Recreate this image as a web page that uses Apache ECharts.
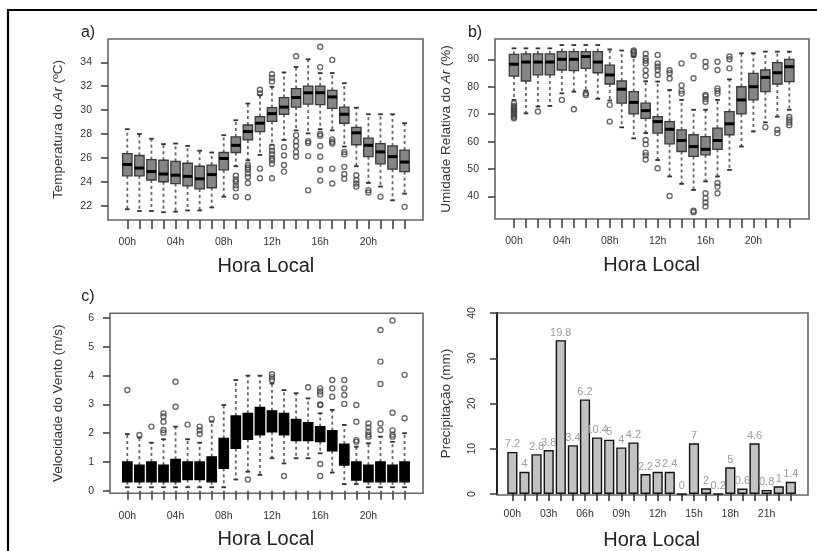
<!DOCTYPE html>
<html>
<head>
<meta charset="utf-8">
<title>Hora Local</title>
<script src="https://cdn.jsdelivr.net/npm/echarts@6/dist/echarts.min.js"></script>
<style>
  html, body { margin: 0; padding: 0; background: #fff; }
  #main { width: 817px; height: 551px; }
</style>
</head>
<body>
<div id="main"></div>
<script type="text/javascript">
// categorias (hora local)
const hours = ['00h','01h','02h','03h','04h','05h','06h','07h','08h','09h','10h','11h',
               '12h','13h','14h','15h','16h','17h','18h','19h','20h','21h','22h','23h'];

// a) temperatura do ar
const tempMin = [21.7,21.55,21.55,21.45,21.5,21.6,21.6,21.85,22.75,25.3,25.8,26.25,27.1,27.5,28.3,28.05,28.4,28.3,26.95,25.3,23.9,23.6,22.45,23.0];
const tempQ1  = [24.5,24.5,24.15,24.0,23.85,23.65,23.4,23.5,25.0,26.45,27.5,28.2,29.05,29.65,30.25,30.5,30.45,30.15,28.9,27.1,26.1,25.5,25.05,24.85];
const tempMed = [25.45,25.15,24.85,24.65,24.55,24.45,24.25,24.6,25.95,27.05,28.2,28.9,29.7,30.25,31.05,31.45,31.45,31.1,29.65,28.1,27.05,26.5,26.1,25.65];
const tempQ3  = [26.35,26.2,25.85,25.8,25.7,25.55,25.3,25.4,26.45,27.75,28.75,29.45,30.2,31.05,31.8,32.0,32.0,31.65,30.25,28.55,27.65,27.2,27.0,26.65];
const tempMax = [28.4,28.0,27.6,27.15,27.2,27.0,26.6,26.45,27.9,29.15,30.55,31.25,31.95,33.15,33.6,34.25,33.1,33.1,32.25,30.2,29.65,29.65,29.65,28.9];
const tempOut = [
  [9,24.5],[9,24.2],[9,24.0],[9,23.7],[9,23.45],[9,22.75],
  [10,25.4],[10,25.2],[10,25.0],[10,24.7],[10,24.4],[10,23.9],[10,22.7],
  [11,31.7],[11,31.4],[11,25.1],[11,24.3],
  [12,33.0],[12,32.7],[12,32.4],[12,26.9],[12,26.6],[12,26.3],[12,26.0],[12,25.8],[12,25.5],[12,24.3],
  [13,26.9],[13,26.2],[13,25.4],[13,24.85],
  [14,34.5],[14,27.9],[14,27.4],[14,27.0],[14,26.5],[14,26.1],
  [15,27.4],[15,27.25],[15,26.15],[15,23.3],
  [16,35.3],[16,33.6],[16,28.0],[16,27.85],[16,27.0],[16,26.1],[16,25.0],[16,24.1],
  [17,34.2],[17,27.55],[17,27.35],[17,27.2],[17,25.1],[17,23.85],
  [18,26.5],[18,26.3],[18,25.25],[18,24.65],[18,24.25],
  [19,24.55],[19,24.15],[19,23.85],[19,23.6],
  [20,23.3],[20,23.1],[21,22.75],[23,21.9]
];

// b) umidade relativa do ar
const umMin = [75.2,70.3,72.8,73.0,77.6,78.2,78.6,75.6,75.0,65.2,61.2,63.1,53.3,47.3,44.6,42.4,45.5,47.3,49.7,58.2,63.7,67.0,69.1,71.6];
const umQ1  = [83.9,82.1,84.3,84.3,86.1,85.9,86.7,85.1,81.0,74.0,70.1,68.5,63.1,59.2,56.4,54.6,55.2,57.2,62.5,70.1,75.2,78.2,81.0,81.9];
const umMed = [88.2,89.0,89.0,89.0,90.0,90.0,91.0,89.0,84.3,79.1,74.3,71.3,67.3,64.5,60.4,58.2,57.2,60.4,66.5,75.2,80.0,83.4,85.1,87.3];
const umQ3  = [91.8,92.0,92.0,92.0,92.8,92.8,92.8,92.8,87.9,82.1,78.2,74.0,69.1,67.3,64.3,62.5,61.8,64.9,70.9,80.0,84.9,86.1,88.8,90.0];
const umMax = [94.0,94.0,94.0,94.0,95.2,95.2,95.2,95.2,93.6,93.2,91.0,82.0,81.9,78.8,75.2,71.6,71.6,75.2,82.7,92.2,92.2,92.8,92.8,92.8];
const umOut = [
  [0,74],[0,73],[0,72.5],[0,72],[0,71.5],[0,71],[0,70.5],[0,70],[0,69.5],[0,69],[0,68.5],
  [2,71],[4,75.2],[5,71.8],[6,77.6],[6,77.0],[8,73.4],[8,67.3],
  [10,93.2],[10,92.8],[10,92.3],[10,91.6],
  [11,92],[11,90.4],[11,89.5],[11,88.5],[11,86],[11,84],[11,60.6],[11,59],[11,56],[11,55],[11,53.5],
  [12,91.6],[12,88.5],[12,87.3],[12,86.1],[12,84.3],[12,50.3],
  [13,86],[13,85],[13,83],[13,40.2],
  [14,88.5],[14,80.5],[14,78.5],[14,77.5],
  [15,91.2],[15,83.1],[15,34.8],[15,34.3],
  [16,89.1],[16,87.3],[16,77],[16,76.5],[16,75.5],[16,74.5],[16,41.2],[16,39.4],[16,37.8],[16,36.4],
  [17,89.1],[17,86.1],[17,79.4],[17,78.5],[17,77.5],[17,44.9],[17,43.6],[17,41.2],
  [18,91.0],[18,90.0],[18,86.7],
  [21,65.3],[22,64.3],[22,63.1],[23,69.0],[23,68],[23,67],[23,66]
];

// c) velocidade do vento
const ventoMin = [0.12,0.12,0.12,0.12,0.12,0.12,0.12,0.12,0.12,0.39,0.66,0.55,1.13,0.95,1.13,1.13,1.3,0.63,0.23,0.23,0.12,0.12,0.12,0.12];
const ventoQ1  = [0.31,0.31,0.31,0.31,0.31,0.39,0.39,0.31,0.78,1.47,1.79,1.94,2.05,1.94,1.74,1.74,1.71,1.39,0.89,0.37,0.31,0.31,0.31,0.31];
const ventoMed = [0.6,0.6,0.6,0.6,0.7,0.7,0.7,0.7,1.2,2.1,2.3,2.5,2.5,2.3,2.2,2.1,2.0,1.8,1.3,0.6,0.6,0.6,0.6,0.6];
const ventoQ3  = [1.0,0.89,1.0,0.89,1.09,1.0,1.0,1.18,1.82,2.6,2.69,2.9,2.78,2.69,2.48,2.37,2.23,2.09,1.62,1.0,0.89,1.0,0.89,1.0];
const ventoMax = [1.97,1.85,1.67,1.79,2.23,1.79,1.67,2.4,2.98,3.85,4.0,4.0,3.73,3.5,3.39,3.21,2.69,2.81,2.29,1.53,1.65,1.88,1.7,2.0];
const ventoOut = [
  [0,3.5],[1,1.94],[2,2.23],
  [3,2.69],[3,2.58],[3,2.4],[3,2.11],[3,2.02],
  [4,3.79],[4,2.92],[5,2.3],[6,2.23],[6,2.1],[6,1.97],[7,2.5],
  [10,0.39],[12,4.05],[12,3.95],[12,3.85],[13,0.51],[15,3.6],
  [16,3.56],[16,3.45],[16,3.35],[16,3.0],[16,2.98],[16,0.93],[16,0.51],
  [17,3.85],[17,3.56],[17,3.27],
  [18,3.85],[18,3.56],[18,3.33],[18,3.02],
  [19,2.98],[19,2.4],[19,1.76],[19,1.7],
  [20,2.34],[20,2.2],[20,2.05],[20,1.95],[20,1.88],
  [21,5.59],[21,4.49],[21,3.71],[21,2.34],[21,2.11],
  [22,5.92],[22,2.71],[22,2.1],[22,1.95],[22,1.88],
  [23,4.03],[23,2.52]
];

// d) precipitação
const precip = [9.3,4.9,8.8,9.7,34.0,10.8,20.9,12.5,12.0,10.3,11.4,4.4,4.9,4.9,0,11.2,1.25,0,5.9,1.2,11.2,0.9,1.7,2.7];
const precipLabels = ['7.2','4','2.8','3.8','19.8','3.4','6.2','10.4','5','4','4.2','2.2','3','2.4','0','7','2','0.2','5','0.6','4.6','0.8','1','1.4'];

const FONT = 'Liberation Sans, Arial, sans-serif';

function rows(mn, q1, md, q3, mx) {
    return hours.map(function (h, i) { return [i, mn[i], q1[i], md[i], q3[i], mx[i]]; });
}

// caixa no estilo do R: bigodes tracejados, hastes curtas, mediana grossa
function boxRender(fill, stroke) {
    return function (params, api) {
        const i = api.value(0);
        const lo = api.coord([i, api.value(1)]);
        const q1 = api.coord([i, api.value(2)]);
        const md = api.coord([i, api.value(3)]);
        const q3 = api.coord([i, api.value(4)]);
        const hi = api.coord([i, api.value(5)]);
        const w = api.size([1, 0])[0] * 0.78;
        const x = lo[0];
        const dash = {stroke: '#666', lineWidth: 1.8, lineDash: [3, 3], fill: null};
        const cap = {stroke: '#333', lineWidth: 1.8, fill: null};
        return {
            type: 'group',
            children: [
                {type: 'line', shape: {x1: x, y1: q3[1], x2: x, y2: hi[1]}, style: dash},
                {type: 'line', shape: {x1: x, y1: q1[1], x2: x, y2: lo[1]}, style: dash},
                {type: 'line', shape: {x1: x - w / 4, y1: hi[1], x2: x + w / 4, y2: hi[1]}, style: cap},
                {type: 'line', shape: {x1: x - w / 4, y1: lo[1], x2: x + w / 4, y2: lo[1]}, style: cap},
                {type: 'rect', shape: {x: x - w / 2, y: q3[1], width: w, height: q1[1] - q3[1]},
                    style: {fill: fill, stroke: stroke, lineWidth: 1.3}},
                {type: 'line', shape: {x1: x - w / 2, y1: md[1], x2: x + w / 2, y2: md[1]},
                    style: {stroke: '#000', lineWidth: 3}}
            ]
        };
    };
}

function hourAxis(gridIndex, every, tickMargin) {
    return {
        type: 'category', gridIndex: gridIndex, data: hours,
        axisLine: {show: false},
        axisTick: {show: true, interval: 0, alignWithLabel: true, length: 9,
            lineStyle: {color: '#444', width: 1.6}},
        axisLabel: {interval: every - 1, margin: tickMargin, fontSize: 10.5, color: '#333', fontFamily: FONT},
        name: 'Hora Local', nameLocation: 'middle', nameGap: 36,
        nameTextStyle: {fontSize: 20, color: '#222', fontFamily: FONT}
    };
}

function valueAxis(gridIndex, mn, mx, ticks, offset, name, gap) {
    return {
        type: 'value', gridIndex: gridIndex, min: mn, max: mx, offset: offset,
        splitLine: {show: false},
        axisLine: {show: false},
        axisTick: {show: true, length: 7, customValues: ticks, lineStyle: {color: '#444', width: 1.6}},
        axisLabel: {customValues: ticks, margin: 16, fontSize: 10.5, color: '#333', fontFamily: FONT},
        name: name, nameLocation: 'middle', nameGap: gap,
        nameTextStyle: {fontSize: 13.5, color: '#333', fontFamily: FONT,
            rich: {i: {fontStyle: 'italic', fontSize: 13.5, color: '#333', fontFamily: FONT}}}
    };
}

function outliers(xi, yi, data) {
    return {
        type: 'scatter', xAxisIndex: xi, yAxisIndex: yi, data: data,
        symbol: 'circle', symbolSize: 5, silent: true,
        itemStyle: {color: 'transparent', borderColor: '#444', borderWidth: 1.4}
    };
}

function frame(x, y, w, h) {
    return {type: 'rect', shape: {x: x, y: y, width: w, height: h},
        style: {fill: null, stroke: '#666', lineWidth: 1.6}, silent: true};
}

function panelTag(text, x, y) {
    return {type: 'text', x: x, y: y,
        style: {text: text, fontSize: 16, fill: '#222', fontFamily: FONT, align: 'center', verticalAlign: 'middle'}};
}

const myChart = echarts.init(document.getElementById('main'), null, {renderer: 'canvas'});

const option = {
    backgroundColor: '#fff',
    animation: false,
    grid: [
        {left: 121.3, top: 39, width: 289.3, height: 181},
        {left: 508, top: 39, width: 287.3, height: 180},
        {left: 121.3, top: 313.3, width: 289.3, height: 180},
        {left: 506.3, top: 313, width: 290.6, height: 182}
    ],
    xAxis: [
        hourAxis(0, 4, 17),
        hourAxis(1, 4, 17),
        hourAxis(2, 4, 17),
        Object.assign(hourAxis(3, 3, 15), {
            axisTick: {show: true, interval: 0, alignWithLabel: true, length: 7,
                lineStyle: {color: '#333', width: 1.6}}
        })
    ],
    yAxis: [
        valueAxis(0, 20.8, 35.95, [22, 24, 26, 28, 30, 32, 34], 13.3, 'Temperatura do {i|Ar} (ºC)', 43),
        valueAxis(1, 31.8, 97.4, [40, 50, 60, 70, 80, 90], 13, 'Umidade Relativa do {i|Ar} (%)', 41.5),
        valueAxis(2, -0.09, 6.17, [0, 1, 2, 3, 4, 5, 6], 11.3, 'Velocidade do Vento (m/s)', 45),
        Object.assign(valueAxis(3, 0, 40, [0, 10, 20, 30, 40], 9.3, 'Precipitação (mm)', 43.7), {
            axisLine: {show: true, lineStyle: {color: '#222', width: 2}},
            axisLabel: {customValues: [0, 10, 20, 30, 40], rotate: 90, margin: 19, fontSize: 10.5,
                color: '#333', fontFamily: FONT}
        })
    ],
    series: [
        {type: 'custom', xAxisIndex: 0, yAxisIndex: 0, renderItem: boxRender('#858585', '#3a3a3a'),
            encode: {x: 0, y: [1, 2, 3, 4, 5]}, data: rows(tempMin, tempQ1, tempMed, tempQ3, tempMax), silent: true},
        outliers(0, 0, tempOut),
        {type: 'custom', xAxisIndex: 1, yAxisIndex: 1, renderItem: boxRender('#858585', '#3a3a3a'),
            encode: {x: 0, y: [1, 2, 3, 4, 5]}, data: rows(umMin, umQ1, umMed, umQ3, umMax), silent: true},
        outliers(1, 1, umOut),
        {type: 'custom', xAxisIndex: 2, yAxisIndex: 2, renderItem: boxRender('#000', '#000'),
            encode: {x: 0, y: [1, 2, 3, 4, 5]}, data: rows(ventoMin, ventoQ1, ventoMed, ventoQ3, ventoMax), silent: true},
        outliers(2, 2, ventoOut),
        {
            type: 'bar', xAxisIndex: 3, yAxisIndex: 3, data: precip, barWidth: '84%', silent: true,
            itemStyle: {color: '#c2c2c2', borderColor: '#111', borderWidth: 1.4},
            label: {
                show: true, position: 'top', distance: 2, fontSize: 11, color: '#9c9c9c', fontFamily: FONT,
                formatter: function (p) { return precipLabels[p.dataIndex]; }
            }
        }
    ],
    graphic: [
        {type: 'rect', shape: {x: 8, y: 10, width: 900, height: 600},
            style: {fill: null, stroke: '#000', lineWidth: 2.2}, silent: true},
        frame(108, 39, 315, 181),
        frame(495, 39, 314, 180),
        frame(110, 313.3, 313, 180),
        frame(497, 313, 311, 182),
        panelTag('a)', 88, 33),
        panelTag('b)', 475, 33),
        panelTag('c)', 88, 297)
    ]
};

myChart.setOption(option);
</script>
</body>
</html>
